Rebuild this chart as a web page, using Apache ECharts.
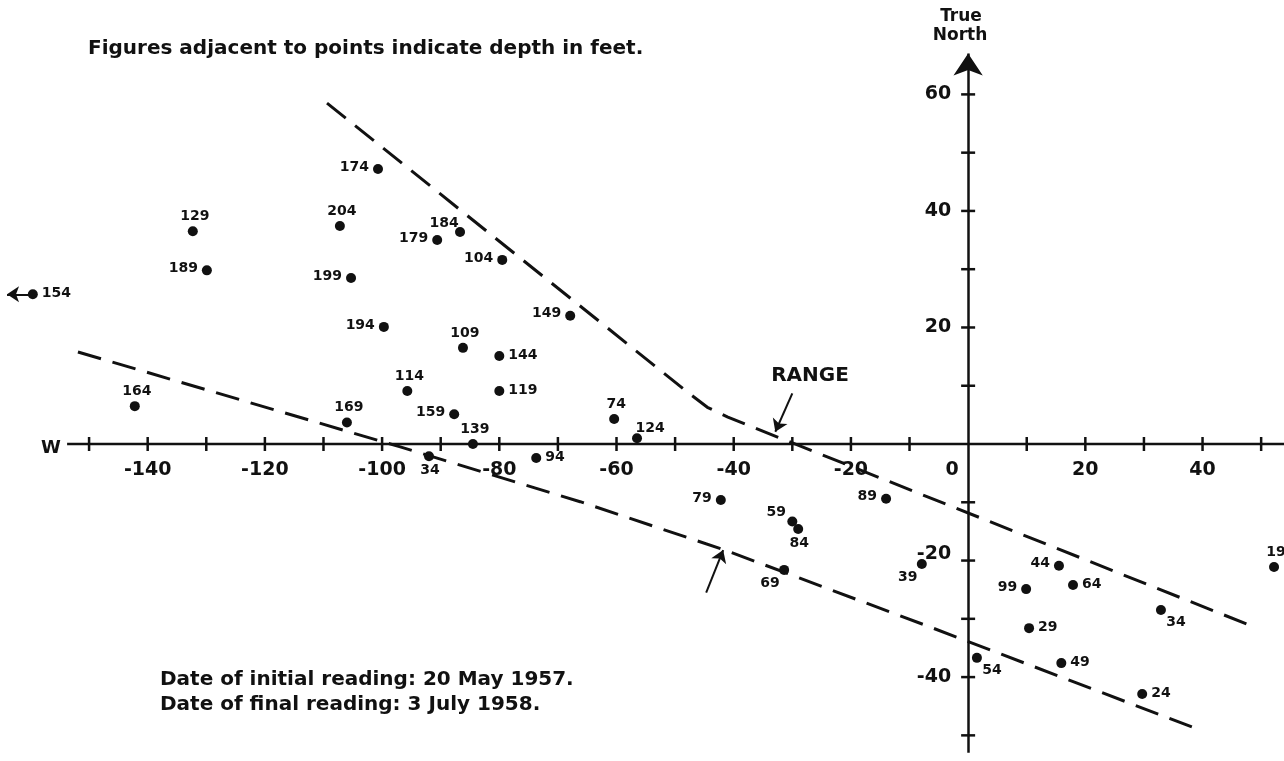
<!DOCTYPE html>
<html>
<head>
<meta charset="utf-8">
<script src="https://cdn.jsdelivr.net/npm/echarts@6/dist/echarts.min.js"></script>
<style>
html,body{margin:0;padding:0;background:#ffffff;}
#chart{width:1284px;height:761px;}
</style>
</head>
<body>
<div id="chart"></div>
<script>
// ---------- data ----------
const depthLabels = ['174','129','204','189','199','154','194','184','179','104','149','109','144','114','119','159','169','139','34','94','74','124','164','79','59','84','69','89','39','44','99','64','34','29','54','49','24','19'];
const eastX  = [-100.7,-132.3,-107.2,-129.9,-105.3,-159.6,-99.7,-86.7,-90.6,-79.5,-67.9,-86.2,-80.0,-95.7,-80.0,-87.7,-106.0,-84.5,-92.0,-73.7,-60.4,-56.5,-142.2,-42.2,-30.0,-29.0,-31.4,-14.0,-7.9,15.5,9.9,17.9,32.9,10.4,1.5,15.9,29.7,52.2];
const northY = [47.2,36.5,37.4,29.8,28.5,25.7,20.1,36.4,35.0,31.6,22.0,16.5,15.1,9.1,9.1,5.1,3.7,0.0,-2.1,-2.4,4.3,1.0,6.5,-9.6,-13.3,-14.6,-21.6,-9.4,-20.6,-20.9,-24.9,-24.2,-28.5,-31.6,-36.7,-37.6,-42.9,-21.1];

const upperRangeX = [-109.4,-47.5,-44.5,-41.0,49.3];
const upperRangeY = [58.5,8.6,6.3,4.6,-31.6];
const lowerRangeX = [-151.9,-96.9,-66.2,-41.5,-6.5,39.6];
const lowerRangeY = [15.8,-0.5,-9.9,-18.2,-31.4,-49.1];

const xLabelValues = [-140,-120,-100,-80,-60,-40,-20,0,20,40];
const yLabelValues = [60,40,20,-20,-40];
const xTickValues = [-150,-140,-130,-120,-110,-100,-90,-80,-70,-60,-50,-40,-30,-20,-10,10,20,30,40,50];
const yTickValues = [60,50,40,30,20,10,-10,-20,-30,-40,-50];

const xAxisExtent = [-153.75, 53.9];
const yAxisExtent = [-53.0, 67.0];

const arrowFrom = [[-30.0,8.7],[-44.7,-25.5],[-159.6,25.7]];
const arrowTo   = [[-32.9,2.1],[-41.8,-18.2],[-164.0,25.7]];

// ---------- styling ----------
const INK = '#111111';
const FONT = '"DejaVu Sans", "Liberation Sans", sans-serif';

// label placement (style only) for each point, same order as data
const labelSide = ['L','T','T','L','L','R','L','TL','L','L','L','T','R','T','R','L','T','T','B','R','T','TR','T','L','TL','B','BL','L','BL','L','L','R','BR','R','BR','R','R','T'];
const sideStyle = {
  L:  {position:'left',   distance:4, offset:[0,-2]},
  R:  {position:'right',  distance:4, offset:[0,-1]},
  T:  {position:'top',    distance:3, offset:[2,0]},
  B:  {position:'bottom', distance:2, offset:[1,0]},
  TL: {position:'top',    distance:0, offset:[-16,3]},
  TR: {position:'top',    distance:0, offset:[13,2]},
  BL: {position:'bottom', distance:0, offset:[-14,1]},
  BR: {position:'bottom', distance:0, offset:[15,0]}
};

const pointData = depthLabels.map((d,i)=>({
  value:[eastX[i], northY[i]],
  name:d,
  label:Object.assign({}, sideStyle[labelSide[i]])
}));

const xLabelData = xLabelValues.map(v=>({
  value:[v,0],
  label:{offset: v===0 ? [-16,26] : [0,26]}
}));
const yLabelData = yLabelValues.map(v=>({
  value:[0,v],
  label:{offset: v===-20 ? [0,-6] : [0,0]}
}));

const chart = echarts.init(document.getElementById('chart'), null, {renderer:'canvas'});

const tickFont = {color:INK, fontSize:19, fontWeight:'bold', fontFamily:FONT, opacity:1};

const option = {
  backgroundColor:'#ffffff',
  animation:false,
  grid:{left:0,right:0,top:0,bottom:0,containLabel:false},
  xAxis:{
    type:'value', min:-165.2, max:53.9, show:false,
    splitLine:{show:false}
  },
  yAxis:{
    type:'value', min:-54.4, max:76.2, show:false,
    splitLine:{show:false}
  },
  graphic:[
    {type:'text', x:88, y:49, style:{text:'Figures adjacent to points indicate depth in feet.', fill:INK, font:'bold 20px '+FONT, textAlign:'left', textVerticalAlign:'middle', align:'left', verticalAlign:'middle'}},
    {type:'text', x:160, y:680, style:{text:'Date of initial reading: 20 May 1957.', fill:INK, font:'bold 20px '+FONT, textAlign:'left', textVerticalAlign:'middle', align:'left', verticalAlign:'middle'}},
    {type:'text', x:160, y:705, style:{text:'Date of final reading: 3 July 1958.', fill:INK, font:'bold 20px '+FONT, textAlign:'left', textVerticalAlign:'middle', align:'left', verticalAlign:'middle'}},
    {type:'text', x:810, y:376, style:{text:'RANGE', fill:INK, font:'bold 20px '+FONT, textAlign:'center', textVerticalAlign:'middle', align:'center', verticalAlign:'middle'}},
    {type:'text', x:961, y:17, style:{text:'True', fill:INK, font:'bold 17px '+FONT, textAlign:'center', textVerticalAlign:'middle', align:'center', verticalAlign:'middle'}},
    {type:'text', x:960, y:36, style:{text:'North', fill:INK, font:'bold 17px '+FONT, textAlign:'center', textVerticalAlign:'middle', align:'center', verticalAlign:'middle'}},
    {type:'text', x:51, y:448, style:{text:'W', fill:INK, font:'bold 18px '+FONT, textAlign:'center', textVerticalAlign:'middle', align:'center', verticalAlign:'middle'}}
  ],
  series:[
    {
      name:'x axis line', type:'line', silent:true, symbol:'none', z:2,
      data:[[xAxisExtent[0],0],[xAxisExtent[1],0]],
      lineStyle:{color:INK,width:2.5}
    },
    {
      name:'north axis', type:'lines', coordinateSystem:'cartesian2d', silent:true, z:2,
      symbol:['none','arrow'], symbolSize:[12,22],
      data:[{coords:[[0,yAxisExtent[0]],[0,yAxisExtent[1]]]}],
      lineStyle:{color:INK,width:2.5,opacity:1,curveness:0}
    },
    {
      name:'x ticks', type:'scatter', silent:true, symbol:'rect', symbolSize:[2.5,14], z:3,
      data:xTickValues.map(v=>[v,0]),
      itemStyle:{color:INK,opacity:1}
    },
    {
      name:'y ticks', type:'scatter', silent:true, symbol:'rect', symbolSize:[14,2.5], z:3,
      data:yTickValues.map(v=>[0,v]),
      itemStyle:{color:INK,opacity:1}
    },
    {
      name:'x tick labels', type:'scatter', silent:true, symbol:'circle', symbolSize:0, z:4,
      data:xLabelData,
      itemStyle:{color:INK,opacity:1},
      label:Object.assign({show:true, position:'inside', formatter:p=>String(p.value[0])}, tickFont)
    },
    {
      name:'y tick labels', type:'scatter', silent:true, symbol:'circle', symbolSize:0, z:4,
      data:yLabelData,
      itemStyle:{color:INK,opacity:1},
      label:Object.assign({show:true, position:'left', distance:17, formatter:p=>String(p.value[1])}, tickFont)
    },
    {
      name:'upper range', type:'line', silent:true, symbol:'none', z:2,
      data:upperRangeX.map((x,i)=>[x,upperRangeY[i]]),
      lineStyle:{color:INK,width:3,type:[24,12]}
    },
    {
      name:'lower range', type:'line', silent:true, symbol:'none', z:2,
      data:lowerRangeX.map((x,i)=>[x,lowerRangeY[i]]),
      lineStyle:{color:INK,width:3,type:[24,12]}
    },
    {
      name:'arrows', type:'lines', coordinateSystem:'cartesian2d', silent:true, z:3,
      symbol:['none','arrow'], symbolSize:[9,12],
      data:arrowFrom.map((p,i)=>({coords:[p,arrowTo[i]]})),
      lineStyle:{color:INK,width:2,opacity:1,curveness:0}
    },
    {
      name:'depth points', type:'scatter', clip:false, symbol:'circle', symbolSize:10, z:5,
      data:pointData,
      itemStyle:{color:INK,opacity:1},
      label:{show:true, formatter:'{b}', color:INK, fontSize:14, fontWeight:'bold', fontFamily:FONT}
    }
  ]
};
chart.setOption(option);
</script>
</body>
</html>
